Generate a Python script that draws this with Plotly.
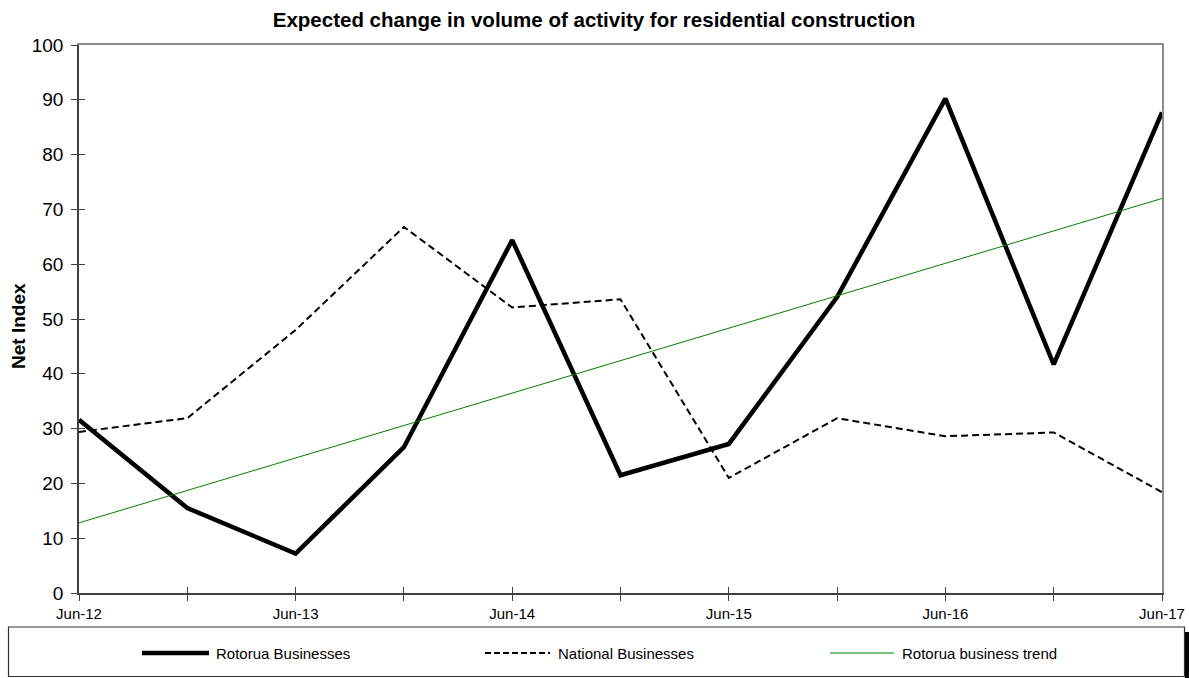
import plotly.graph_objects as go

periods = ["Jun-12", "Dec-12", "Jun-13", "Dec-13", "Jun-14", "Dec-14",
           "Jun-15", "Dec-15", "Jun-16", "Dec-16", "Jun-17"]
tick_labels = ["Jun-12", "", "Jun-13", "", "Jun-14", "", "Jun-15", "", "Jun-16", "", "Jun-17"]
rotorua = [31.6, 15.5, 7.2, 26.6, 64.4, 21.5, 27.2, 54.0, 90.2, 41.7, 87.7]
national = [29.4, 31.9, 48.0, 66.8, 52.1, 53.6, 21.0, 31.9, 28.6, 29.3, 18.4]
trend_periods = ["Jun-12", "Jun-17"]
trend = [12.8, 72.0]

W, H = 1189, 678
# plot area on the page: x 79..1162, y 45..593
PL, PR, PT, PB = 79, 1162, 45, 593
L, T = PL, PT
R, B = W - PR, H - PB
FONT = "Liberation Sans, Arial, sans-serif"
AX = "#404040"


def rx(x):  # page x -> pixel offset from plot left
    return x - PL


def ry(y):  # page y -> pixel offset above plot bottom
    return PB - y


fig = go.Figure()
fig.add_trace(go.Scatter(x=periods, y=rotorua, mode="lines", name="Rotorua Businesses",
                         line=dict(color="black", width=4.5), showlegend=False))
fig.add_trace(go.Scatter(x=periods, y=national, mode="lines", name="National Businesses",
                         line=dict(color="black", width=2, dash="7px,4px"), showlegend=False))
fig.add_trace(go.Scatter(x=trend_periods, y=trend, mode="lines", name="Rotorua business trend",
                         line=dict(color="#008000", width=1), showlegend=False))

fig.update_layout(
    width=W, height=H,
    margin=dict(l=L, r=R, t=T, b=B, pad=0, autoexpand=False),
    paper_bgcolor="white", plot_bgcolor="white",
    font=dict(family=FONT, color="black"),
    title=dict(text="<b>Expected change in volume of activity for residential construction</b>",
               x=594 / W, xref="container", xanchor="center",
               y=1 - 20 / H, yref="container", yanchor="middle",
               font=dict(size=20.5, family=FONT, color="black")),
    xaxis=dict(type="category", categoryorder="array", categoryarray=periods,
               range=[0, 10], tickvals=periods, ticktext=tick_labels, automargin=False,
               ticks="outside", ticklen=6, tickcolor=AX, tickwidth=1,
               showline=True, linecolor=AX, linewidth=1.5, showgrid=False, zeroline=False,
               tickfont=dict(size=15, family=FONT, color="black")),
    yaxis=dict(range=[0, 100], dtick=10, tick0=0, automargin=False, ticklabelstandoff=4,
               ticks="outside", ticklen=6, tickcolor=AX, tickwidth=1,
               showline=True, linecolor=AX, linewidth=1.5, showgrid=False, zeroline=False,
               tickfont=dict(size=19, family=FONT, color="black")),
    # top / right frame (grey)
    xaxis2=dict(overlaying="x", side="top", range=[0, 10], showline=True, linecolor="#8c8c8c",
                linewidth=2, showticklabels=False, ticks="", showgrid=False, zeroline=False,
                automargin=False),
    yaxis2=dict(overlaying="y", side="right", anchor="x", range=[0, 100], showline=True,
                linecolor="#8c8c8c", linewidth=2, showticklabels=False, ticks="",
                showgrid=False, zeroline=False, automargin=False),
    # inner half of crossing ticks
    xaxis3=dict(overlaying="x", side="bottom", anchor="y", range=[0, 10], tickvals=list(range(11)),
                ticks="inside", ticklen=6, tickcolor=AX, tickwidth=1, showticklabels=False,
                showline=False, showgrid=False, zeroline=False, automargin=False),
    yaxis3=dict(overlaying="y", side="left", anchor="x", range=[0, 100], dtick=10, tick0=0,
                ticks="inside", ticklen=6, tickcolor=AX, tickwidth=1, showticklabels=False,
                showline=False, showgrid=False, zeroline=False, automargin=False),
    showlegend=False,
)

# empty traces so the overlay axes are drawn
fig.add_trace(go.Scatter(x=[], y=[], xaxis="x2", yaxis="y2", showlegend=False, hoverinfo="skip"))
fig.add_trace(go.Scatter(x=[], y=[], xaxis="x3", yaxis="y3", showlegend=False, hoverinfo="skip"))


def pshape(kind, x0, x1, y0, y1, **kw):
    return dict(type=kind, xref="paper", yref="paper", xsizemode="pixel", ysizemode="pixel",
                xanchor=0, yanchor=0, x0=rx(x0), x1=rx(x1), y0=ry(y0), y1=ry(y1), **kw)


shapes = [
    # dark shadow edge of the legend box
    pshape("rect", 1185, 1190, 632, 679, fillcolor="black", line=dict(width=0), layer="above"),
    # legend box
    pshape("rect", 8.5, 1184.5, 627, 676.5, fillcolor="white",
           line=dict(color="#303030", width=1.2)),
]

legend_items = [
    ("Rotorua Businesses", dict(color="black", width=4.5), 142, 209, 214),
    ("National Businesses", dict(color="black", width=2, dash="6px,3px"), 485, 550, 556),
    ("Rotorua business trend", dict(color="#008000", width=1), 830, 894, 900),
]
ly = 653
annotations = []
for name, ln, x0, x1, tx in legend_items:
    shapes.append(pshape("line", x0, x1, ly, ly, line=ln))
    annotations.append(dict(text=name, xref="paper", yref="paper", x=0, y=0,
                            xshift=rx(tx), yshift=ry(ly),
                            xanchor="left", yanchor="middle", showarrow=False,
                            font=dict(size=15, family=FONT, color="black")))

annotations.append(dict(text="<b>Net Index</b>", xref="paper", yref="paper", x=0, y=0,
                        xshift=rx(18), yshift=ry(326),
                        xanchor="center", yanchor="middle", textangle=-90, showarrow=False,
                        font=dict(size=19, family=FONT, color="black")))

fig.update_layout(shapes=shapes, annotations=annotations)
fig.write_html("out.html", config={"displayModeBar": False},
               post_script="document.body.style.margin='0px';"
                           "document.body.style.overflow='hidden';")
